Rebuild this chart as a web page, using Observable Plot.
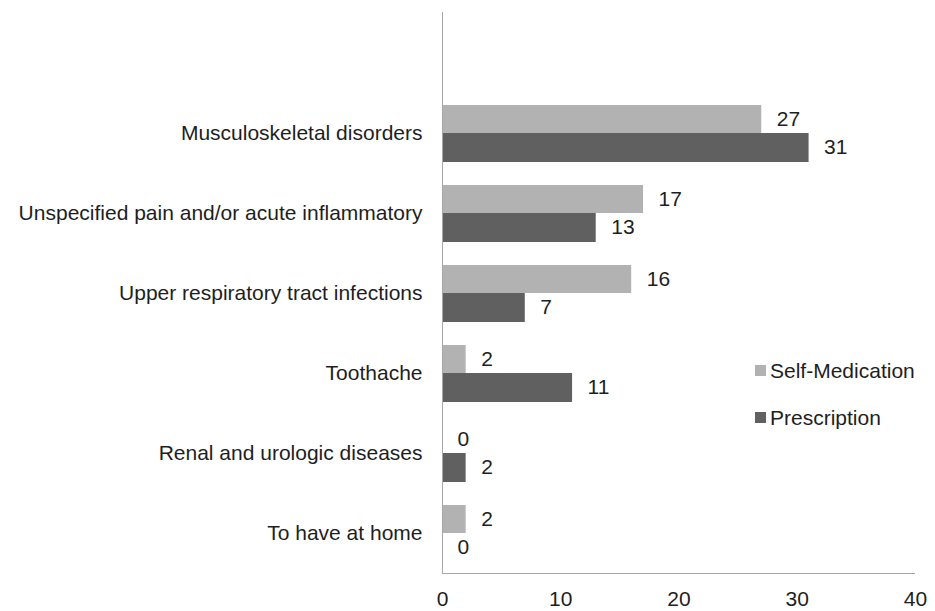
<!DOCTYPE html>
<html><head><meta charset="utf-8">
<script src="https://cdn.jsdelivr.net/npm/d3@7"></script>
<script src="https://cdn.jsdelivr.net/npm/@observablehq/plot@0.6"></script>
<style>
body{margin:0;background:#fff;font-family:"Liberation Sans",Arial,sans-serif;}
#wrap{position:relative;width:935px;height:611px;}
.leg{position:absolute;left:755px;font-size:21px;color:#1e1e1e;display:flex;align-items:center;line-height:1;}
.leg span.sw{display:inline-block;width:11px;height:11px;margin-right:4px;}
</style></head><body><div id="wrap"></div>
<script>
const categories = ["Musculoskeletal disorders", "Unspecified pain and/or acute inflammatory", "Upper respiratory tract infections", "Toothache", "Renal and urologic diseases", "To have at home"];
const series = ["Self-Medication", "Prescription"];
const selfMedication = [27, 17, 16, 2, 0, 2];
const prescription = [31, 13, 7, 11, 2, 0];
const xTicks = [0, 10, 20, 30, 40];
const colors = ["#b2b2b2", "#606060"];

const selfData = categories.map((c, i) => ({category: c, value: selfMedication[i]}));
const prescData = categories.map((c, i) => ({category: c, value: prescription[i]}));

const chart = Plot.plot({
  width: 935, height: 611,
  marginLeft: 442, marginRight: 20, marginTop: 12, marginBottom: 38,
  style: {fontFamily: "'Liberation Sans', Arial, sans-serif", fontSize: "21px", color: "#1e1e1e", background: "#fff"},
  x: {domain: [0, 40], ticks: xTicks, tickSize: 0, tickPadding: 18, label: null},
  y: {domain: categories, range: [93, 573], padding: 0, tickSize: 0, tickPadding: 20, label: null},
  marks: [
    Plot.barX(selfData, {x: "value", y: "category", fill: colors[0], insetTop: 12, insetBottom: 40}),
    Plot.barX(prescData, {x: "value", y: "category", fill: colors[1], insetTop: 40, insetBottom: 11}),
    Plot.text(selfData, {x: "value", y: "category", text: d => String(d.value), dx: 15, dy: -14, textAnchor: "start", fill: "#1e1e1e"}),
    Plot.text(prescData, {x: "value", y: "category", text: d => String(d.value), dx: 15, dy: 14, textAnchor: "start", fill: "#1e1e1e"}),
    Plot.ruleX([0], {stroke: "#a6a6a6", strokeWidth: 1}),
    Plot.ruleY([categories[categories.length - 1]], {x1: 0, x2: 40, dy: 40, stroke: "#a6a6a6", strokeWidth: 1})
  ]
});
const wrap = document.getElementById("wrap");
wrap.appendChild(chart);
const legTops = [360, 407];
series.forEach((s, i) => {
  const d = document.createElement("div");
  d.className = "leg";
  d.style.top = legTops[i] + "px";
  d.innerHTML = `<span class="sw" style="background:${colors[i]}"></span>${s}`;
  wrap.appendChild(d);
});
</script></body></html>
